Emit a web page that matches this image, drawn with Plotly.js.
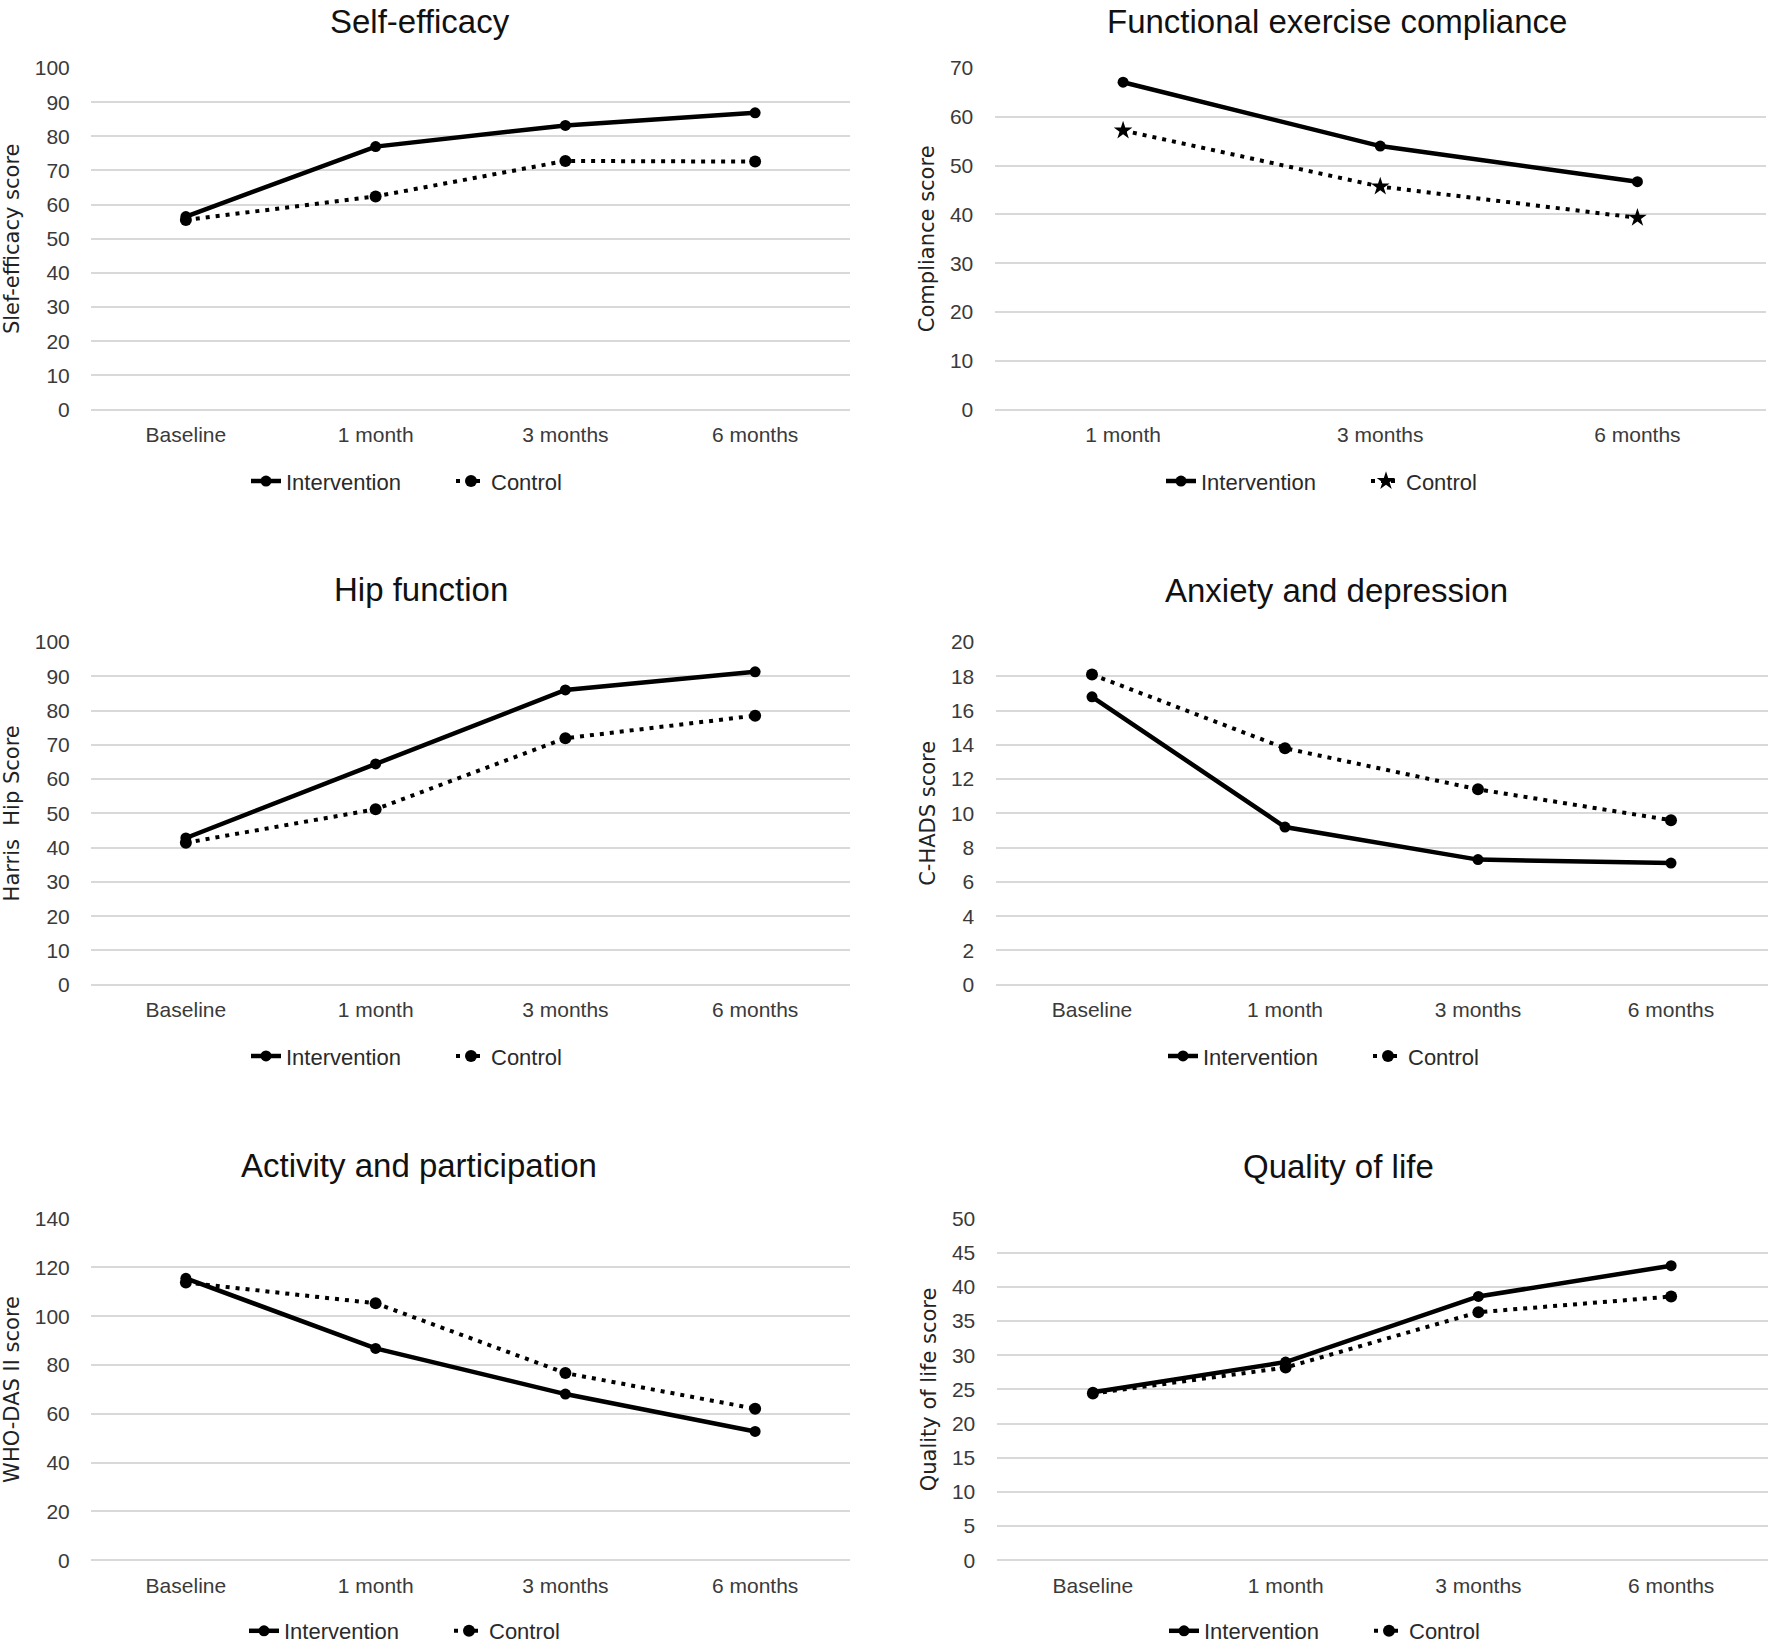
<!DOCTYPE html>
<html>
<head>
<meta charset="utf-8">
<script src="https://cdn.plot.ly/plotly-3.0.1.min.js"></script>
<style>html,body{margin:0;padding:0;background:#fff;}#chart{width:1772px;height:1652px;}</style>
</head>
<body>
<div id="chart"></div>
<script>
// ---- Data ----
const timepoints4 = ['Baseline', '1 month', '3 months', '6 months'];
const timepoints3 = ['1 month', '3 months', '6 months'];
const seriesNames = ['Intervention', 'Control'];

const panelTitles = ['Self-efficacy', 'Functional exercise compliance', 'Hip function',
  'Anxiety and depression', 'Activity and participation', 'Quality of life'];
const yTitles = ['Slef-efficacy score', 'Compliance score', 'Harris\u00a0 Hip Score',
  'C-HADS score', 'WHO-DAS II score', 'Quality of life score'];

const selfEfficacyIntervention = [56.5, 77.0, 83.2, 86.9];
const selfEfficacyControl      = [55.5, 62.4, 72.8, 72.6];

const complianceIntervention = [67.1, 54.0, 46.7];
const complianceControl      = [57.2, 45.7, 39.3];

const hipIntervention = [42.8, 64.4, 86.0, 91.3];
const hipControl      = [41.4, 51.2, 71.9, 78.5];

const hadsIntervention = [16.8, 9.2, 7.3, 7.1];
const hadsControl      = [18.1, 13.8, 11.4, 9.6];

const whodasIntervention = [115.5, 86.8, 68.1, 52.8];
const whodasControl      = [113.8, 105.3, 76.7, 62.1];

const qolIntervention = [24.6, 29.0, 38.6, 43.1];
const qolControl      = [24.4, 28.2, 36.3, 38.6];

const yMax  = [100, 70, 100, 20, 140, 50];
const yStep = [10, 10, 10, 2, 20, 5];

// ---- Layout geometry ----
const W = 1772, H = 1652;
const px = v => v / W;
const py = v => (H - v) / H;

const panels = [
  {x: timepoints4, a: selfEfficacyIntervention, b: selfEfficacyControl, xd: [91, 850],       yd: [68.3, 411],    title: [420, 22],   leg: [246, 483],  ctlSym: 'circle'},
  {x: timepoints3, a: complianceIntervention,   b: complianceControl,   xd: [994.5, 1766],   yd: [68.3, 411],    title: [1337, 22],  leg: [1161, 483], ctlSym: 'star'},
  {x: timepoints4, a: hipIntervention,          b: hipControl,          xd: [91, 850],       yd: [644.3, 988.3], title: [421, 592],  leg: [246, 1060], ctlSym: 'circle'},
  {x: timepoints4, a: hadsIntervention,         b: hadsControl,         xd: [995.5, 1767.5], yd: [644.3, 988.3], title: [1336, 593], leg: [1163, 1060], ctlSym: 'circle'},
  {x: timepoints4, a: whodasIntervention,       b: whodasControl,       xd: [91, 850],       yd: [1223, 1566],   title: [419, 1170], leg: [244, 1637], ctlSym: 'circle'},
  {x: timepoints4, a: qolIntervention,          b: qolControl,          xd: [996.5, 1767.5], yd: [1223, 1566],   title: [1338, 1171], leg: [1164, 1637], ctlSym: 'circle'}
];

const tickFont = {family: 'Liberation Sans, Arial, sans-serif', size: 21, color: '#3a3a3a'};
const legendFont = {family: 'Liberation Sans, Arial, sans-serif', size: 22, color: '#2a2a2a'};
const titleFont = {family: 'Liberation Sans, Arial, sans-serif', size: 33, color: '#111'};
const yTitleFont = {family: 'DejaVu Sans, sans-serif', size: 21, color: '#222'};

const traces = [];
const layout = {
  width: W, height: H,
  margin: {l: 0, r: 0, t: 0, b: 0},
  paper_bgcolor: '#fff', plot_bgcolor: '#fff',
  showlegend: true,
  annotations: []
};

panels.forEach((p, i) => {
  const n = i + 1;
  const sfx = n === 1 ? '' : String(n);
  const legId = 'legend' + sfx;
  traces.push({
    type: 'scatter', mode: 'lines+markers',
    x: p.x, y: p.a, name: seriesNames[0],
    xaxis: 'x' + sfx, yaxis: 'y' + sfx, legend: legId,
    line: {color: '#000', width: 4.5},
    marker: {symbol: 'circle', size: 11, color: '#000'}
  });
  traces.push({
    type: 'scatter', mode: 'lines+markers',
    x: p.x, y: p.b, name: seriesNames[1],
    xaxis: 'x' + sfx, yaxis: 'y' + sfx, legend: legId,
    line: {color: '#000', width: 4, dash: '4px,6px'},
    marker: {symbol: p.ctlSym, size: p.ctlSym === 'star' ? 14 : 12, color: '#000'}
  });

  layout['xaxis' + sfx] = {
    domain: [px(p.xd[0]), px(p.xd[1])],
    anchor: 'y' + sfx,
    type: 'category',
    categoryorder: 'array', categoryarray: p.x,
    range: [-0.5, p.x.length - 0.5],
    showgrid: false, zeroline: false, showline: false,
    ticks: 'outside', ticklen: 6, tickcolor: 'rgba(0,0,0,0)',
    tickfont: tickFont, fixedrange: true
  };
  layout['yaxis' + sfx] = {
    domain: [py(p.yd[1]), py(p.yd[0])],
    anchor: 'x' + sfx,
    range: [0, yMax[i]],
    tick0: 0, dtick: yStep[i],
    showgrid: true, gridcolor: '#d9d9d9', gridwidth: 2,
    zeroline: true, zerolinecolor: '#d9d9d9', zerolinewidth: 2,
    showline: false,
    ticks: 'outside', ticklen: 16, tickcolor: 'rgba(0,0,0,0)',
    tickfont: tickFont,
    title: {text: yTitles[i], font: yTitleFont, standoff: 9},
    fixedrange: true
  };
  layout[legId] = {
    orientation: 'h',
    x: px(p.leg[0]), y: py(p.leg[1]),
    xanchor: 'left', yanchor: 'middle',
    entrywidth: 160, entrywidthmode: 'pixels',
    font: legendFont, bgcolor: 'rgba(0,0,0,0)',
    itemclick: false, itemdoubleclick: false
  };
  layout.annotations.push({
    text: panelTitles[i], xref: 'paper', yref: 'paper',
    x: px(p.title[0]), y: py(p.title[1]),
    xanchor: 'center', yanchor: 'middle',
    showarrow: false, font: titleFont
  });
});

Plotly.newPlot('chart', traces, layout, {displayModeBar: false, staticPlot: true});
</script>
</body>
</html>
